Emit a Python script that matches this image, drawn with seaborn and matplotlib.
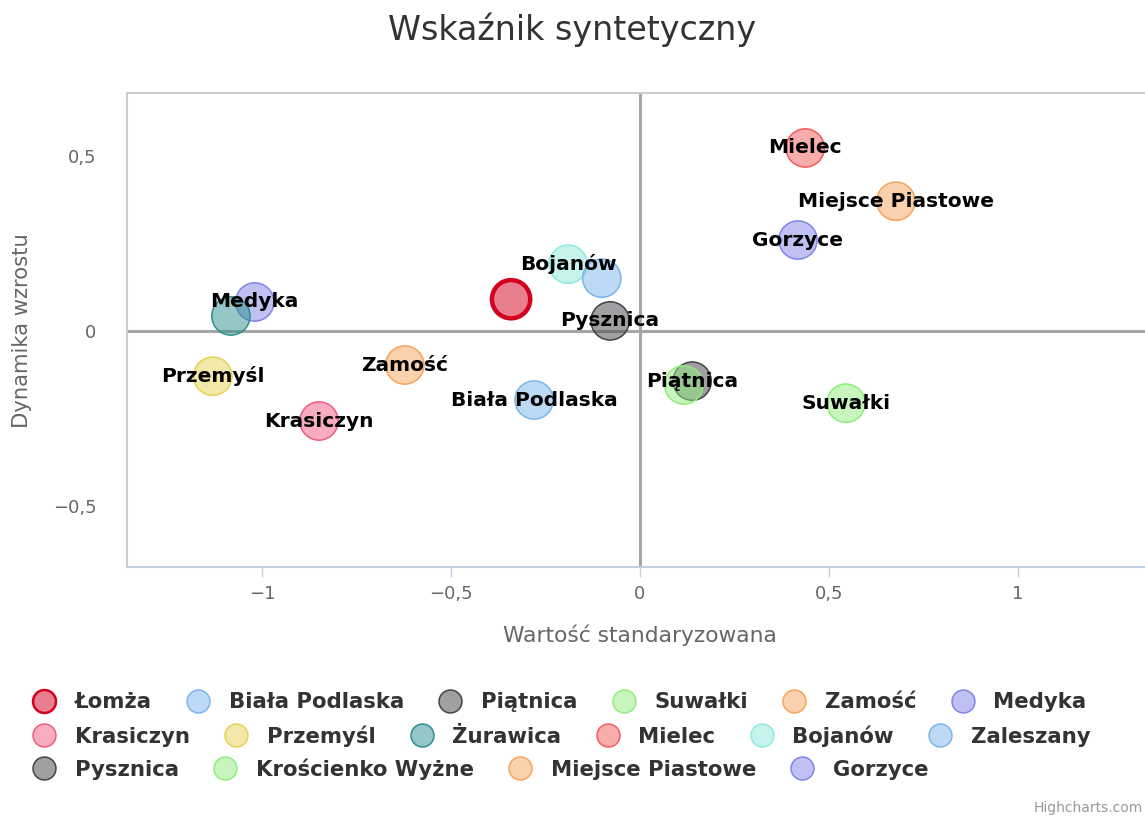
"""Bubble chart: Wskaźnik syntetyczny"""
import matplotlib
matplotlib.use("Agg")
import matplotlib.pyplot as plt
from matplotlib.lines import Line2D
from matplotlib.colors import to_rgba
from matplotlib.ticker import FuncFormatter
import pandas as pd
import seaborn as sns

# Data
names = ["Łomża", "Biała Podlaska", "Piątnica", "Suwałki", "Zamość", "Medyka",
         "Krasiczyn", "Przemyśl", "Żurawica", "Mielec", "Bojanów", "Zaleszany",
         "Pysznica", "Krościenko Wyżne", "Miejsce Piastowe", "Gorzyce"]
x_std = [-0.341, -0.280, 0.138, 0.545, -0.622, -1.019,
         -0.849, -1.130, -1.082, 0.437, -0.190, -0.101,
         -0.079, 0.116, 0.677, 0.418]
y_dyn = [0.091, -0.197, -0.143, -0.206, -0.097, 0.083,
         -0.257, -0.129, 0.043, 0.523, 0.191, 0.151,
         0.029, -0.154, 0.371, 0.260]
colors = ["#d4001f", "#7cb5ec", "#434348", "#90ed7d", "#f7a35c", "#8085e9",
          "#f15c80", "#e4d354", "#2b908f", "#f45b5b", "#91e8e1", "#7cb5ec",
          "#434348", "#90ed7d", "#f7a35c", "#8085e9"]
hidden_labels = ["Łomża", "Zaleszany", "Żurawica", "Krościenko Wyżne"]
legend_rows = [6, 6, 4]
x_ticks = [-1, -0.5, 0, 0.5, 1]
y_ticks = [-0.5, 0, 0.5]

sns.set_style("white")
plt.rcParams["font.family"] = ["DejaVu Sans"]

W, H = 1145, 816
fig = plt.figure(figsize=(W / 100, H / 100), dpi=100)
ax = fig.add_axes([127 / W, 1 - 567 / H, 1 - 127 / W, (567 - 93) / H])

df = pd.DataFrame({"name": names, "x": x_std, "y": y_dyn})
fills = {n: to_rgba(c, 0.5) for n, c in zip(names, colors)}
sns.scatterplot(data=df, x="x", y="y", hue="name", palette=fills, s=760,
                legend=False, ax=ax, zorder=3)
coll = ax.collections[-1]
coll.set_facecolors([fills[n] for n in names])
coll.set_edgecolors(colors)
coll.set_linewidths([3.2 if n == "Łomża" else 1.1 for n in names])

ax.axhline(0, color="#a6a6a6", lw=2.2, zorder=2)
ax.axvline(0, color="#a6a6a6", lw=2.2, zorder=2)

for n, xv, yv in zip(names, x_std, y_dyn):
    if n in hidden_labels:
        continue
    ax.text(xv, yv, n, ha="center", va="center", fontsize=14.5,
            fontweight="bold", color="black", zorder=5)

ax.set_xlim(-1.357, 1.336)
ax.set_ylim(-0.674, 0.68)
ax.set_xticks(x_ticks)
ax.set_yticks(y_ticks)
fmt = FuncFormatter(lambda v, p: f"{v:g}".replace(".", ",").replace("-", "\u2212"))
ax.xaxis.set_major_formatter(fmt)
ax.yaxis.set_major_formatter(fmt)
ax.tick_params(axis="x", length=7, width=1, color="#c0d0e0", labelsize=13,
               labelcolor="#666666", pad=6, direction="out", bottom=True)
ax.tick_params(axis="y", length=0, labelsize=13, labelcolor="#666666", pad=22)
for side in ["top", "left"]:
    ax.spines[side].set_color("#cccccc")
    ax.spines[side].set_linewidth(1.5)
ax.spines["right"].set_visible(False)
ax.spines["bottom"].set_color("#c0d0e0")
ax.spines["bottom"].set_linewidth(1.5)
ax.set_xlabel("")
ax.set_ylabel("")

fig.text(640 / W, 1 - 635 / H, "Wartość standaryzowana", ha="center", va="center",
         fontsize=15.7, color="#666666")
fig.text(22 / W, 1 - 331 / H, "Dynamika wzrostu", ha="center", va="center",
         rotation=90, fontsize=15.2, color="#666666")
fig.text(572 / W, 1 - 30 / H, "Wskaźnik syntetyczny", ha="center", va="center",
         fontsize=24, color="#333333")
fig.text(1 - 2 / W, 1 - 808 / H, "Highcharts.com", ha="right", va="center",
         fontsize=10, color="#999999")

# Legend, one flowing row per legend
row_y = [702, 736, 769]
start = 0
for k, count in enumerate(legend_rows):
    idx = range(start, start + count)
    handles = [Line2D([], [], ls="none", marker="o", markersize=16.5,
                      markerfacecolor=fills[names[i]], markeredgecolor=colors[i],
                      markeredgewidth=1.8 if i == 0 else 1.1) for i in idx]
    labels = [names[i] for i in idx]
    leg = fig.legend(handles, labels, loc="center left",
                     bbox_to_anchor=(34 / W, 1 - row_y[k] / H), ncol=count,
                     frameon=False, handlelength=0.97, handletextpad=0.95,
                     columnspacing=1.7, borderpad=0, borderaxespad=0,
                     prop={"weight": "bold", "size": 15.3})
    for t in leg.get_texts():
        t.set_color("#333333")
    start += count

fig.savefig("out.png", dpi=100)
